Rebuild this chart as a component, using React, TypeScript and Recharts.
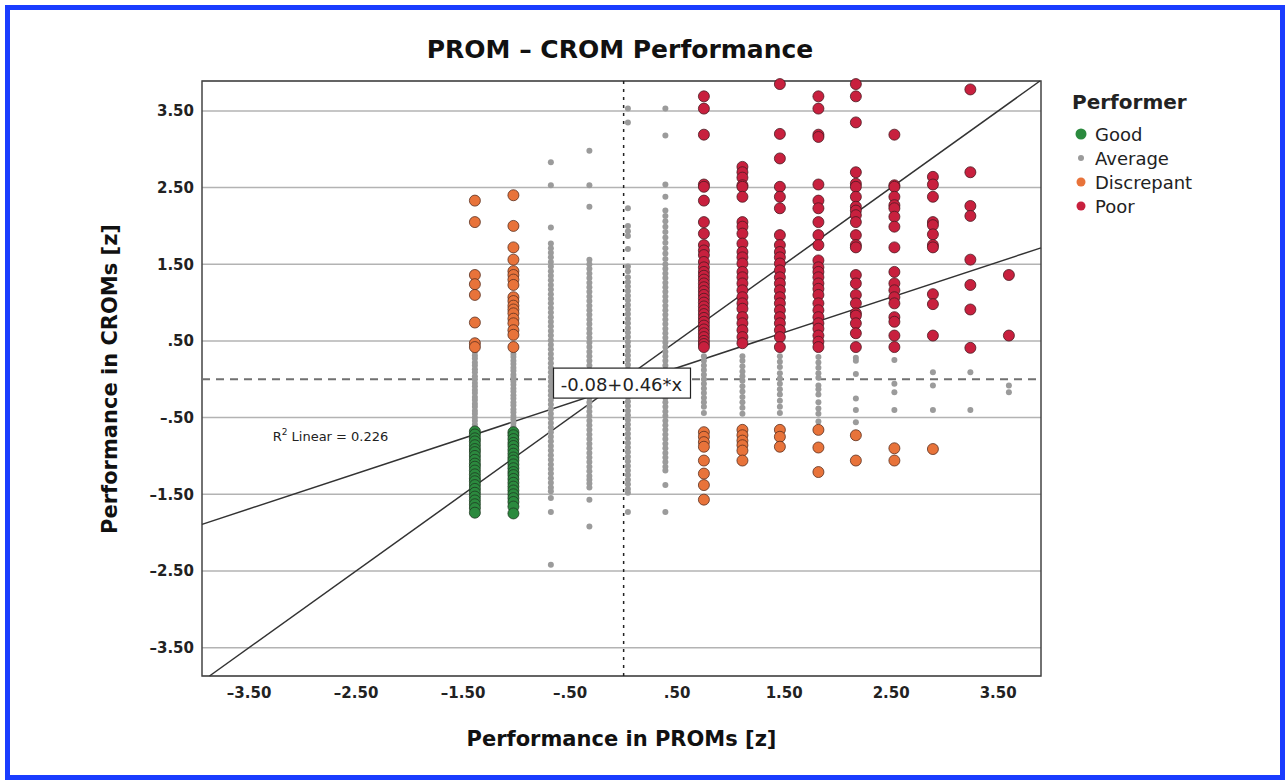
import {
  ScatterChart,
  Scatter,
  XAxis,
  YAxis,
  CartesianGrid,
  ReferenceLine,
  ReferenceArea,
  ReferenceDot,
} from "recharts";

// PROM column positions (z) - the scores only take these discrete values
const columnX = [-1.39, -1.03, -0.68, -0.32, 0.04, 0.39, 0.75, 1.11, 1.46, 1.82, 2.17, 2.53, 2.89, 3.24, 3.6];

// CROM values per column, one list per performer group
const goodY: number[][] = [
  [-0.68, -0.72, -0.77, -0.81, -0.86, -0.91, -0.95, -1.0, -1.05, -1.1, -1.14, -1.19, -1.24, -1.29, -1.33, -1.38, -1.43, -1.48, -1.53, -1.58, -1.63, -1.68, -1.74],
  [-0.69, -0.73, -0.78, -0.83, -0.87, -0.92, -0.97, -1.02, -1.06, -1.11, -1.16, -1.21, -1.25, -1.3, -1.35, -1.4, -1.45, -1.5, -1.55, -1.6, -1.66, -1.75],
];

const averageY: number[][] = [
  [0.4, 0.36, 0.31, 0.27, 0.22, 0.18, 0.13, 0.09, 0.04, 0.0, -0.05, -0.09, -0.14, -0.18, -0.23, -0.27, -0.32, -0.36, -0.41, -0.45, -0.5, -0.54, -0.59, -0.64],
  [0.38, 0.33, 0.29, 0.24, 0.2, 0.15, 0.11, 0.06, 0.02, -0.03, -0.07, -0.12, -0.16, -0.21, -0.25, -0.3, -0.34, -0.39, -0.43, -0.48, -0.52, -0.57, -0.62, -0.66],
  [2.83, 2.53, 1.98, 1.77, 1.71, 1.65, 1.59, 1.53, 1.47, 1.41, 1.35, 1.29, 1.23, 1.17, 1.11, 1.05, 0.99, 0.93, 0.87, 0.81, 0.75, 0.69, 0.63, 0.57, 0.51, 0.45, 0.39, 0.33, 0.27, 0.21, 0.15, 0.09, 0.03, -0.03, -0.09, -0.15, -0.21, -0.27, -0.33, -0.39, -0.45, -0.51, -0.57, -0.63, -0.69, -0.75, -0.81, -0.87, -0.93, -0.99, -1.05, -1.11, -1.17, -1.23, -1.29, -1.35, -1.41, -1.46, -1.55, -1.73, -2.42],
  [2.98, 2.53, 2.25, 1.56, 1.5, 1.44, 1.38, 1.32, 1.26, 1.2, 1.14, 1.08, 1.02, 0.96, 0.9, 0.84, 0.78, 0.72, 0.66, 0.6, 0.54, 0.48, 0.42, 0.36, 0.3, 0.24, 0.18, 0.12, 0.06, 0.0, -0.06, -0.12, -0.18, -0.24, -0.3, -0.36, -0.42, -0.48, -0.54, -0.6, -0.66, -0.72, -0.78, -0.84, -0.9, -0.96, -1.02, -1.08, -1.14, -1.2, -1.26, -1.31, -1.36, -1.41, -1.57, -1.92],
  [3.53, 3.35, 2.23, 2.0, 1.93, 1.87, 1.7, 1.47, 1.41, 1.33, 1.27, 1.21, 1.15, 1.09, 1.03, 0.97, 0.91, 0.85, 0.79, 0.73, 0.67, 0.61, 0.55, 0.49, 0.43, 0.37, 0.31, 0.25, 0.19, 0.13, 0.07, 0.01, -0.05, -0.11, -0.17, -0.23, -0.29, -0.35, -0.41, -0.47, -0.53, -0.59, -0.65, -0.71, -0.77, -0.83, -0.89, -0.95, -1.01, -1.07, -1.13, -1.19, -1.25, -1.31, -1.37, -1.43, -1.48, -1.73],
  [3.53, 3.18, 2.54, 2.38, 2.2, 2.13, 2.06, 1.99, 1.92, 1.85, 1.78, 1.71, 1.64, 1.57, 1.5, 1.44, 1.38, 1.32, 1.26, 1.2, 1.14, 1.08, 1.02, 0.96, 0.9, 0.84, 0.78, 0.72, 0.66, 0.6, 0.54, 0.48, 0.42, 0.36, 0.3, 0.24, 0.18, 0.12, 0.06, 0.0, -0.06, -0.12, -0.18, -0.24, -0.3, -0.36, -0.42, -0.48, -0.54, -0.6, -0.66, -0.72, -0.78, -0.84, -0.9, -0.96, -1.02, -1.08, -1.14, -1.19, -1.38, -1.73],
  [0.3, 0.24, 0.18, 0.12, 0.06, 0.0, -0.06, -0.12, -0.18, -0.24, -0.3, -0.36, -0.44],
  [0.3, 0.24, 0.17, 0.1, 0.04, -0.02, -0.09, -0.16, -0.23, -0.3, -0.37, -0.45],
  [0.3, 0.23, 0.16, 0.08, 0.01, -0.06, -0.13, -0.2, -0.28, -0.36, -0.44],
  [0.29, 0.22, 0.15, 0.08, 0.02, -0.08, -0.13, -0.2, -0.3, -0.38, -0.45, -0.55],
  [0.28, 0.24, 0.07, -0.25, -0.4, -0.56],
  [0.25, -0.06, -0.17, -0.4],
  [0.09, -0.08, -0.4],
  [0.09, -0.4],
  [-0.08, -0.17],
];

const discrepantY: number[][] = [
  [2.33, 2.05, 1.36, 1.24, 1.1, 0.74, 0.47, 0.42],
  [2.4, 2.0, 1.72, 1.56, 1.41, 1.36, 1.3, 1.23, 1.07, 1.02, 0.96, 0.91, 0.86, 0.79, 0.73, 0.64, 0.58, 0.42],
  [],
  [],
  [],
  [],
  [-0.69, -0.75, -0.82, -0.88, -1.06, -1.23, -1.38, -1.57],
  [-0.66, -0.73, -0.8, -0.86, -0.93, -1.06],
  [-0.66, -0.75, -0.88],
  [-0.66, -0.89, -1.21],
  [-0.73, -1.06],
  [-0.9, -1.06],
  [-0.91],
];

const poorY: number[][] = [
  [],
  [],
  [],
  [],
  [],
  [],
  [3.69, 3.53, 3.19, 2.54, 2.51, 2.33, 2.05, 1.9, 1.75, 1.68, 1.62, 1.53, 1.46, 1.4, 1.35, 1.3, 1.25, 1.2, 1.15, 1.1, 1.05, 1.0, 0.95, 0.9, 0.85, 0.8, 0.75, 0.7, 0.65, 0.6, 0.55, 0.5, 0.46, 0.42],
  [2.77, 2.7, 2.63, 2.53, 2.51, 2.38, 2.05, 1.99, 1.9, 1.77, 1.66, 1.59, 1.51, 1.4, 1.33, 1.25, 1.16, 1.07, 0.99, 0.92, 0.81, 0.73, 0.64, 0.55, 0.47],
  [3.85, 3.2, 2.88, 2.51, 2.38, 2.23, 1.88, 1.75, 1.66, 1.59, 1.51, 1.42, 1.33, 1.25, 1.16, 1.07, 0.99, 0.9, 0.81, 0.73, 0.64, 0.55, 0.42],
  [3.69, 3.53, 3.19, 3.16, 2.54, 2.33, 2.23, 2.05, 1.88, 1.75, 1.55, 1.46, 1.4, 1.33, 1.25, 1.18, 1.1, 0.99, 0.9, 0.81, 0.73, 0.66, 0.57, 0.49, 0.42],
  [3.85, 3.69, 3.35, 2.7, 2.55, 2.51, 2.38, 2.25, 2.2, 2.14, 2.05, 1.88, 1.75, 1.72, 1.36, 1.25, 1.1, 0.99, 0.86, 0.83, 0.73, 0.6, 0.42],
  [3.19, 2.53, 2.51, 2.38, 2.27, 2.23, 2.12, 1.99, 1.72, 1.4, 1.25, 1.16, 1.07, 0.99, 0.81, 0.75, 0.57, 0.42],
  [2.64, 2.54, 2.38, 2.05, 2.01, 1.89, 1.75, 1.72, 1.11, 0.98, 0.57],
  [3.78, 2.7, 2.26, 2.13, 1.56, 1.23, 0.91, 0.41],
  [1.36, 0.57],
];

const axisTicks = [-3.5, -2.5, -1.5, -0.5, 0.5, 1.5, 2.5, 3.5];
const xDomain = [-3.94, 3.9];
const yDomain = [-3.87, 3.89];

// fit line and its R squared
const intercept = -0.08;
const slope = 0.46;
const rSquared = 0.226;

const FONT = "'DejaVu Sans', Verdana, sans-serif";

const toPoints = (cols: number[][]) =>
  cols.flatMap((ys, i) => ys.map((y) => ({ x: columnX[i], y })));

// SPSS style tick text: "-.50", ".50", "1.50"
const fmt = (v: number) => {
  const s = Math.abs(v).toFixed(2).replace(/^0/, "");
  return v < 0 ? "\u2013" + s : s;
};

const dot = (fill: string, r: number, stroke?: string) => (p: any) => (
  <circle
    cx={p.cx}
    cy={p.cy}
    r={r}
    fill={fill}
    stroke={stroke || "none"}
    strokeWidth={stroke ? 0.8 : 0}
  />
);

const legendItems = [
  { label: "Good", color: "#2b8a3e", r: 5.5 },
  { label: "Average", color: "#9b9b9b", r: 3 },
  { label: "Discrepant", color: "#e8733a", r: 4.5 },
  { label: "Poor", color: "#c8203e", r: 4.5 },
];

export default function App() {
  const fitStart = { x: xDomain[0], y: intercept + slope * xDomain[0] };
  const fitEnd = { x: xDomain[1], y: intercept + slope * xDomain[1] };
  const lo = Math.max(xDomain[0], yDomain[0]);
  const hi = Math.min(xDomain[1], yDomain[1]);

  return (
    <div
      style={{
        position: "absolute",
        left: 0,
        top: 0,
        width: 1287,
        height: 783,
        background: "#fff",
        fontFamily: FONT,
      }}
    >
      <div
        style={{
          position: "absolute",
          left: 5,
          top: 5,
          width: 1280,
          height: 775,
          boxSizing: "border-box",
          border: "5px solid #1a3cff",
        }}
      />
      <div
        style={{
          position: "absolute",
          left: 0,
          top: 33,
          width: 1240,
          textAlign: "center",
          fontSize: 25,
          fontWeight: "bold",
          color: "#111",
          lineHeight: "34px",
        }}
      >
        PROM – CROM Performance
      </div>

      <div style={{ position: "absolute", left: 0, top: 0 }}>
        <ScatterChart
          width={1287}
          height={783}
          margin={{ top: 81, right: 246, bottom: 37, left: 102 }}
        >
          <CartesianGrid vertical={false} stroke="#b3b3b3" strokeWidth={1.5} />
          <XAxis
            type="number"
            dataKey="x"
            domain={xDomain}
            ticks={axisTicks}
            tickFormatter={fmt}
            tickLine={false}
            axisLine={false}
            height={70}
            tickMargin={5}
            tick={{ fontSize: 15, fontWeight: "bold", fill: "#222", fontFamily: FONT }}
            label={{
              value: "Performance in PROMs [z]",
              position: "insideBottom",
              offset: 0,
              fontSize: 21,
              fontWeight: "bold",
              fill: "#111",
              fontFamily: FONT,
            }}
          />
          <YAxis
            type="number"
            dataKey="y"
            domain={yDomain}
            ticks={axisTicks}
            tickFormatter={fmt}
            tickLine={false}
            axisLine={false}
            width={100}
            tick={{ fontSize: 15, fontWeight: "bold", fill: "#222", fontFamily: FONT }}
            label={{
              content: () => (
                <text
                  x={110}
                  y={379}
                  transform="rotate(-90 110 379)"
                  textAnchor="middle"
                  dominantBaseline="central"
                  fontSize={21}
                  fontWeight="bold"
                  fill="#111"
                  fontFamily={FONT}
                >
                  Performance in CROMs [z]
                </text>
              ),
            }}
          />

          <ReferenceLine y={0} stroke="#707070" strokeWidth={2} strokeDasharray="8 6" />
          <ReferenceLine x={0} stroke="#222" strokeWidth={1.5} strokeDasharray="3 5" />

          <Scatter data={toPoints(averageY)} isAnimationActive={false} shape={dot("#9b9b9b", 3)} />
          <Scatter data={toPoints(goodY)} isAnimationActive={false} shape={dot("#2b8a3e", 5.5, "#1f3a22")} />
          <Scatter data={toPoints(discrepantY)} isAnimationActive={false} shape={dot("#e8733a", 5.5, "#5a3020")} />
          <Scatter data={toPoints(poorY)} isAnimationActive={false} shape={dot("#c8203e", 5.5, "#4a1a22")} />

          <ReferenceLine
            segment={[{ x: lo, y: lo }, { x: hi, y: hi }]}
            stroke="#333"
            strokeWidth={1.5}
          />
          <ReferenceLine segment={[fitStart, fitEnd]} stroke="#333" strokeWidth={1.5} />

          <ReferenceArea
            x1={xDomain[0]}
            x2={xDomain[1]}
            y1={yDomain[0]}
            y2={yDomain[1]}
            fill="none"
            stroke="#444"
            strokeWidth={1.5}
            fillOpacity={0}
          />

          <ReferenceDot
            x={-0.02}
            y={-0.05}
            r={0}
            shape={(p: any) => (
              <g>
                <rect x={p.cx - 68} y={p.cy - 15} width={137} height={30} fill="#fff" stroke="#222" strokeWidth={1.2} />
                <text
                  x={p.cx}
                  y={p.cy + 1}
                  textAnchor="middle"
                  dominantBaseline="central"
                  fontSize={18}
                  fill="#222"
                  fontFamily={FONT}
                >
                  {`${intercept.toFixed(2)}+${slope.toFixed(2)}*x`}
                </text>
              </g>
            )}
          />
          <ReferenceDot
            x={-3.28}
            y={-0.8}
            r={0}
            shape={(p: any) => (
              <text x={p.cx} y={p.cy} fontSize={13} fill="#222" fontFamily={FONT}>
                R<tspan dy={-6} fontSize={9}>2</tspan>
                <tspan dy={6}>{` Linear = ${rSquared.toFixed(3)}`}</tspan>
              </text>
            )}
          />
        </ScatterChart>
      </div>

      <div style={{ position: "absolute", left: 1072, top: 88, color: "#222" }}>
        <div style={{ fontSize: 20, fontWeight: "bold", lineHeight: "28px", marginBottom: 6 }}>
          Performer
        </div>
        {legendItems.map((it) => (
          <div key={it.label} style={{ display: "flex", alignItems: "center", height: 24, fontSize: 18 }}>
            <svg width={18} height={14} style={{ marginRight: 5 }}>
              <circle cx={9} cy={7} r={it.r} fill={it.color} />
            </svg>
            {it.label}
          </div>
        ))}
      </div>
    </div>
  );
}
